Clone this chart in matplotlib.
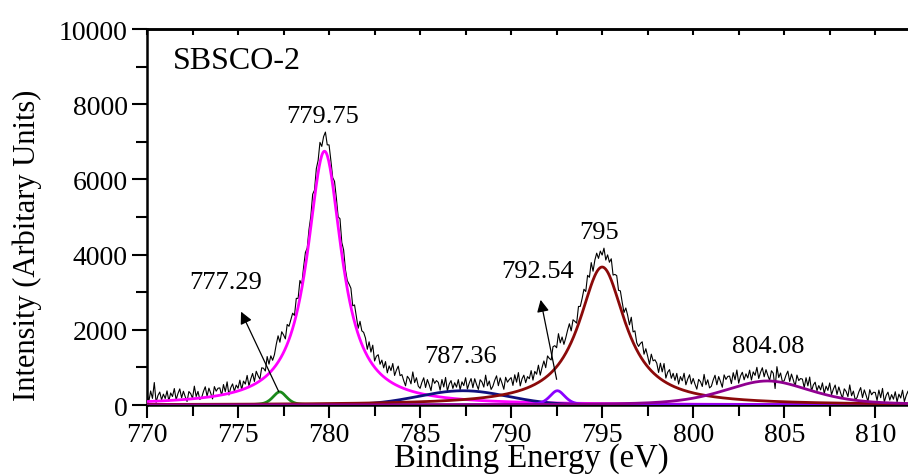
import matplotlib
matplotlib.use("Agg")
import matplotlib.pyplot as plt
import numpy as np
from matplotlib.ticker import MultipleLocator

plt.rcParams["font.family"] = ["Liberation Serif", "DejaVu Serif"]

# fitted components
peak_centers = [777.29, 779.75, 787.36, 792.54, 795.0, 804.08]
peak_heights = [350, 6750, 380, 380, 3670, 640]
peak_hwhm = [0.45, 1.15, 2.9, 0.5, 1.55, 2.85]
peak_lorentz_frac = [0.5, 1.0, 0.0, 0.5, 1.0, 0.5]
peak_colors = ["#1a8a1a", "#ff00ff", "#10107f", "#8a00ff", "#8b0a0a", "#900090"]

# measured spectrum: deviation of the raw counts from the fit envelope,
# one row per eV, sampled every 0.1 eV from 770.0 eV
energy_start, energy_step = 770.0, 0.1
residual = [
    190, -20, 260, 60, 480, -50, 130, 220, 10, 160,      # 770
    40, 240, -30, 180, 80, 290, -10, 150, 270, 30,
    200, 50, -80, 180, 120, -10, 310, 30, 160, -60,
    -20, 140, 260, 0, 210, 70, -90, 230, 100, 170,
    170, -40, 240, 40, 290, -70, 110, 200, -10, 140,
    40, 240, -30, 180, 80, 290, -10, 150, 270, 30,       # 775
    270, 120, -10, 250, 190, 60, 380, 100, 230, 10,
    50, 210, 330, 70, 280, 140, -20, 300, 170, 240,
    290, 80, 360, 160, 410, 50, 230, 320, 110, 260,
    240, 440, 170, 380, 280, 490, 190, 350, 470, 230,
    420, 270, 140, 400, 340, 210, 530, 250, 380, 160,    # 780
    150, 310, 430, 170, 380, 240, 80, 400, 270, 340,
    290, 80, 360, 160, 410, 50, 230, 320, 110, 260,
    90, 290, 20, 230, 130, 340, 40, 200, 320, 80,
    120, -30, -160, 100, 40, -90, 230, -50, 80, -140,
    -200, -40, 80, -180, 30, -110, -270, 50, -80, -10,   # 785
    -60, -270, 10, -190, 60, -300, -120, -30, -240, -90,
    -210, -10, -280, -70, -170, 40, -260, -100, 20, -220,
    20, -130, -260, 0, -60, -190, 130, -150, -20, -240,
    -150, 10, 130, -130, 80, -60, -220, 100, -30, 40,
    90, -120, 160, -40, 210, -150, 30, 120, -90, 60,     # 790
    -10, 190, -80, 130, 30, 240, -60, 100, 220, -20,
    220, 70, -60, 200, 140, 10, 330, 50, 180, -40,
    100, 260, 380, 120, 330, 190, 30, 350, 220, 290,
    390, 180, 460, 260, 510, 150, 330, 420, 210, 360,
    240, 440, 170, 380, 280, 490, 190, 350, 470, 230,    # 795
    370, 220, 90, 350, 290, 160, 480, 200, 330, 110,
    100, 260, 380, 120, 330, 190, 30, 350, 220, 290,
    240, 30, 310, 110, 360, 0, 180, 270, 60, 210,
    40, 240, -30, 180, 80, 290, -10, 150, 270, 30,
    180, 30, -100, 160, 100, -30, 290, 10, 140, -80,     # 800
    -40, 120, 240, -20, 190, 50, -110, 210, 80, 150,
    150, -60, 220, 20, 270, -90, 90, 180, -30, 120,
    0, 200, -70, 140, 40, 250, -50, 110, 230, -10,
    180, 30, -100, 160, 100, -300, 290, 10, 140, -80,
    -40, 120, 240, -20, 190, 50, -110, 210, 80, 150,     # 805
    150, -60, 220, 20, 270, -90, 90, 180, -30, 120,
    20, 220, -50, 160, 60, 270, -30, 130, 250, 10,
    220, 70, -60, 200, 140, 10, 330, 50, 180, -40,
    20, 180, 300, 40, 250, 110, -50, 270, 140, 210,
    210, 0, 280, 80, 330, -30, 150, 240, 30, 180,        # 810
    60, 260, -10, 200, 100, 310, 10, 170, 290, 50,
]

# peak labels: (text, x, y) and arrows (tail -> head)
labels = [("779.75", 779.67, 7686), ("777.29", 774.34, 3270),
          ("787.36", 787.2, 1300), ("792.54", 791.43, 3560),
          ("795", 794.84, 4600), ("804.08", 804.12, 1570)]
arrows = [((777.3, 290), (775.1, 2550)), ((792.53, 610), (791.59, 2870))]


def profile(x, c, h, w, eta):
    lor = 1.0 / (1.0 + ((x - c) / w) ** 2)
    gau = np.exp(-np.log(2) * ((x - c) / w) ** 2)
    return h * (eta * lor + (1 - eta) * gau)


fine = np.linspace(770, 812, 1200)
raw_x = energy_start + energy_step * np.arange(len(residual))
envelope = sum(profile(raw_x, c, h, w, e) for c, h, w, e in
               zip(peak_centers, peak_heights, peak_hwhm, peak_lorentz_frac))
counts = envelope + np.array(residual)

fig = plt.figure(figsize=(9.08, 4.77), dpi=100)
ax = fig.add_axes([0.1619, 0.1488, 0.8381, 0.7883])

ax.plot(raw_x, counts, color="black", lw=0.8, zorder=3)
for c, h, w, e, col in zip(peak_centers, peak_heights, peak_hwhm,
                           peak_lorentz_frac, peak_colors):
    ax.plot(fine, profile(fine, c, h, w, e), color=col, lw=2, zorder=4)

for txt, x, y in labels:
    ax.text(x, y, txt, ha="center", va="center", fontsize=19)
for tail, head in arrows:
    ax.annotate("", xy=head, xytext=tail,
                arrowprops=dict(arrowstyle="-|>", color="black", lw=0.9,
                                mutation_scale=18), zorder=5)
ax.text(771.4, 9150, "SBSCO-2", ha="left", va="center", fontsize=23)

ax.set_xlim(770, 811.8)
ax.set_ylim(0, 10000)
ax.xaxis.set_major_locator(MultipleLocator(5))
ax.xaxis.set_minor_locator(MultipleLocator(2.5))
ax.yaxis.set_major_locator(MultipleLocator(2000))
ax.yaxis.set_minor_locator(MultipleLocator(1000))
ax.tick_params(axis="both", which="major", labelsize=20, width=1.5, length=9,
               direction="out", pad=3)
ax.tick_params(axis="y", which="major", length=11)
ax.tick_params(axis="both", which="minor", width=1.5, length=8, direction="out")
ax.spines["right"].set_visible(False)
for s in ("left", "bottom", "top"):
    ax.spines[s].set_linewidth(1.8)

# small inward ticks along the top frame
top = ax.secondary_xaxis("top")
top.xaxis.set_major_locator(MultipleLocator(2.5))
top.tick_params(direction="in", length=4, width=1.5, labeltop=False)
top.spines["top"].set_linewidth(1.8)

fig.text(0.585, 0.040, "Binding Energy (eV)", ha="center", va="center",
         fontsize=23.5)
fig.text(0.030, 1 - 245 / 477, "Intensity (Arbitary Units)", ha="center",
         va="center", rotation=90, fontsize=22)

fig.savefig("out.png", dpi=100)
